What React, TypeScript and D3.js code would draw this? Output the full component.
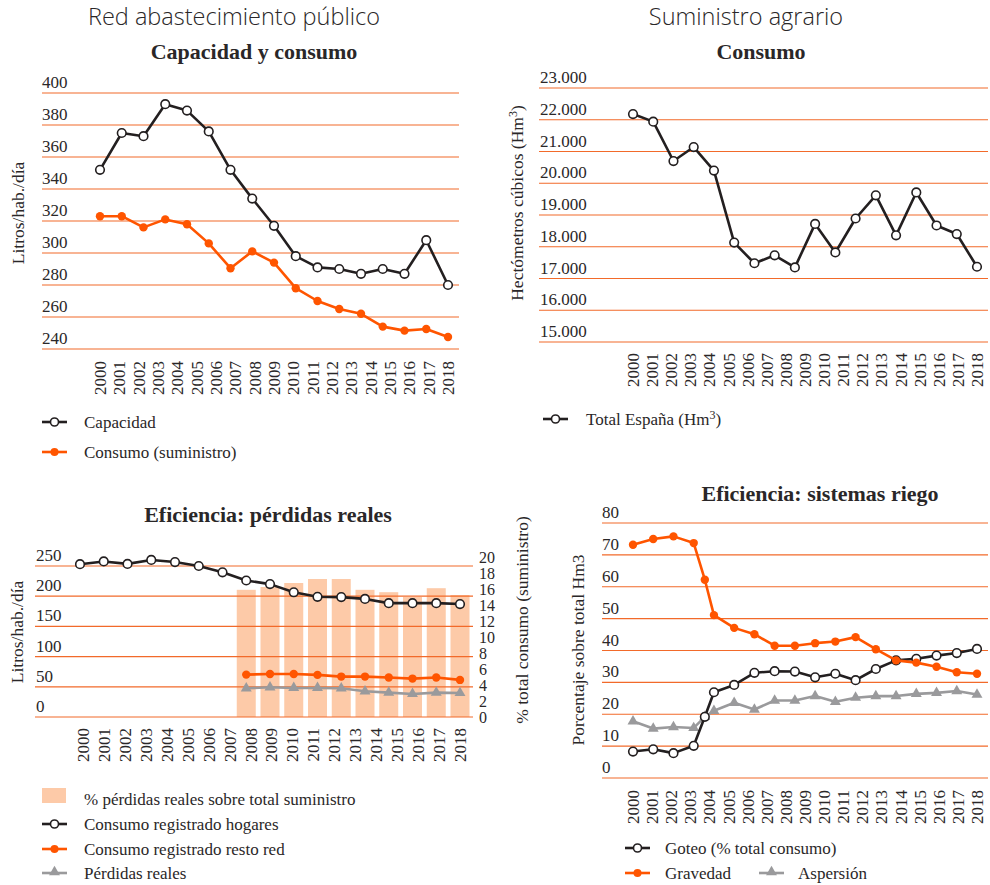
import React from "react";
import * as d3 from "d3";

// ---------- DATA ----------
const YEARS = ["2000","2001","2002","2003","2004","2005","2006","2007","2008","2009","2010","2011","2012","2013","2014","2015","2016","2017","2018"];

// Red abastecimiento público — Capacidad y consumo (Litros/hab./día)
const CAP_TICKS = [240, 260, 280, 300, 320, 340, 360, 380, 400];
const CAPACIDAD = [352, 375, 373, 393, 389, 376, 352, 334, 317, 298, 291, 290, 287, 290, 287, 308, 280];
const CONSUMO_SUM = [323, 323, 316, 321, 318, 306, 290.5, 301, 294, 278, 270, 265, 262, 254, 251.5, 252.5, 247.5];

// Suministro agrario — Consumo (Hm3)
const AGR_TICKS = [15000, 16000, 17000, 18000, 19000, 20000, 21000, 22000, 23000];
const TOTAL_ESPANA = [22180, 21940, 20700, 21140, 20400, 18130, 17480, 17730, 17350, 18720, 17820, 18890, 19620, 18360, 19710, 18670, 18400, 17370];

// Eficiencia: pérdidas reales
const PERD_LEFT_TICKS = [0, 50, 100, 150, 200, 250];
const PERD_RIGHT_TICKS = [0, 2, 4, 6, 8, 10, 12, 14, 16, 18, 20];
const HOGARES = [253, 257.5, 253.5, 260, 256.5, 250, 239.5, 226, 220, 206.5, 199, 198.5, 195.5, 188.5, 188.5, 188.5, 187];
const PERD_START = 7; // slot where the loss series begin
const RESTO_RED = [70.2, 71.3, 71.3, 69.7, 66.9, 66.9, 65.3, 63.6, 65.3, 61.4];
const PERDIDAS = [47.6, 49.2, 48.1, 48.1, 47.6, 42.6, 40.4, 38.2, 40.4, 39.8];
const PERDIDAS_PCT = [15.9, 16.25, 16.75, 17.25, 17.25, 15.9, 15.6, 15.0, 16.1, 15.25];

// Eficiencia: sistemas riego (% sobre total Hm3)
const RIEGO_TICKS = [0, 10, 20, 30, 40, 50, 60, 70, 80];
const RIEGO_POS = [0, 1, 2, 3, 3.55, 4, 5, 6, 7, 8, 9, 10, 11, 12, 13, 14, 15, 16, 17];
const GOTEO = [8.3, 9.0, 7.8, 10.1, 19.2, 26.9, 29.2, 33.0, 33.5, 33.4, 31.6, 32.7, 30.7, 34.2, 36.9, 37.4, 38.4, 39.2, 40.5];
const GRAVEDAD = [73.2, 75, 75.8, 73.7, 62.2, 51.1, 47.1, 45.1, 41.5, 41.5, 42.3, 42.8, 44.2, 40.4, 36.9, 36.2, 34.9, 33.2, 32.7];
const ASPERSION = [17.8, 15.5, 16.0, 15.7, 19.2, 21.1, 23.6, 21.5, 24.3, 24.3, 25.7, 23.9, 25.2, 25.7, 25.7, 26.4, 26.7, 27.3, 26.2];

// ---------- STYLE ----------
const SERIF = "'Liberation Serif', 'DejaVu Serif', serif";
const SANS = "'Open Sans', Lato, sans-serif";
const TXT = "#2a2728";
const GRID = "#f26a2a";
const ORANGE = "#ff5500";
const BLACK = "#231f20";
const GREY = "#9a9a9c";
const BAR = "#fdcaa8";

const esFmt = d3.formatLocale({ decimal: ",", thousands: ".", grouping: [3], currency: ["", "€"] }).format(",");

type Pt = [number, number];

function Line({ pts, color, width = 2.6 }: { pts: Pt[]; color: string; width?: number }) {
  const gen = d3.line<Pt>().x((d) => d[0]).y((d) => d[1]);
  return <path d={gen(pts) || ""} fill="none" stroke={color} strokeWidth={width} strokeLinejoin="round" />;
}

function OpenDots({ pts, r = 4.3 }: { pts: Pt[]; r?: number }) {
  return <g>{pts.map((p, i) => <circle key={i} cx={p[0]} cy={p[1]} r={r} fill="#fff" stroke={BLACK} strokeWidth={1.6} />)}</g>;
}
function Dots({ pts, color, r = 4.2 }: { pts: Pt[]; color: string; r?: number }) {
  return <g>{pts.map((p, i) => <circle key={i} cx={p[0]} cy={p[1]} r={r} fill={color} />)}</g>;
}
const triSym = d3.symbol().type(d3.symbolTriangle).size(52);
function Tris({ pts, color }: { pts: Pt[]; color: string }) {
  return <g>{pts.map((p, i) => <path key={i} d={triSym() || ""} transform={`translate(${p[0]},${p[1]})`} fill={color} />)}</g>;
}

function Grid({ ticks, y, x0, x1, labelX, fmt = (v: number) => String(v) }: { ticks: number[]; y: d3.ScaleLinear<number, number>; x0: number; x1: number; labelX: number; fmt?: (v: number) => string }) {
  return (
    <g>
      {ticks.map((t) => (
        <g key={t}>
          <line x1={x0} x2={x1} y1={y(t)} y2={y(t)} stroke={GRID} strokeWidth={1.2} />
          <text x={labelX} y={y(t) - 5} fontFamily={SERIF} fontSize={17} fill={TXT}>{fmt(t)}</text>
        </g>
      ))}
    </g>
  );
}

function YearAxis({ x, top }: { x: d3.ScalePoint<string>; top: number }) {
  return (
    <g>
      {YEARS.map((yr) => (
        <text key={yr} transform={`translate(${x(yr)},${top}) rotate(-90)`} textAnchor="end" dy="0.35em" fontFamily={SERIF} fontSize={17} fill={TXT}>{yr}</text>
      ))}
    </g>
  );
}

function RotLabel({ cx, cy, children }: { cx: number; cy: number; children: React.ReactNode }) {
  return (
    <text transform={`translate(${cx},${cy}) rotate(-90)`} textAnchor="middle" dy="0.35em" fontFamily={SERIF} fontSize={17.5} fill={TXT}>{children}</text>
  );
}

function LegendLine({ x, y, kind, color }: { x: number; y: number; kind: "open" | "dot" | "tri"; color: string }) {
  return (
    <g>
      <line x1={x} x2={x + 25} y1={y} y2={y} stroke={color} strokeWidth={2.6} />
      {kind === "open" && <circle cx={x + 12.5} cy={y} r={4} fill="#fff" stroke={color} strokeWidth={1.6} />}
      {kind === "dot" && <circle cx={x + 12.5} cy={y} r={4} fill={color} />}
      {kind === "tri" && <path d={triSym() || ""} transform={`translate(${x + 12.5},${y - 1})`} fill={color} />}
    </g>
  );
}
function LegendText({ x, y, children }: { x: number; y: number; children: React.ReactNode }) {
  return <text x={x} y={y} dy="0.35em" fontFamily={SERIF} fontSize={17} fill={TXT}>{children}</text>;
}

function Header({ x, children }: { x: number; children: React.ReactNode }) {
  return <text x={x} y={25} textAnchor="middle" fontFamily={SANS} fontWeight={300} fontSize={23.5} fill={TXT}>{children}</text>;
}
function Title({ x, y, children }: { x: number; y: number; children: React.ReactNode }) {
  return <text x={x} y={y} textAnchor="middle" fontFamily={SERIF} fontWeight={700} fontSize={22} fill={TXT}>{children}</text>;
}

function TopLeft() {
  const y = d3.scaleLinear().domain([240, 400]).range([349, 93]);
  const xl = d3.scalePoint<string>().domain(YEARS).range([100, 448]);
  const xs = d3.scalePoint<number>().domain(d3.range(CAPACIDAD.length)).range([100, 448]);
  const cap: Pt[] = CAPACIDAD.map((v, i) => [xs(i)!, y(v)]);
  const con: Pt[] = CONSUMO_SUM.map((v, i) => [xs(i)!, y(v)]);
  return (
    <g>
      <Header x={234}>Red abastecimiento público</Header>
      <Title x={254} y={59}>Capacidad y consumo</Title>
      <Grid ticks={CAP_TICKS} y={y} x0={42} x1={459} labelX={42} />
      <RotLabel cx={18} cy={213}>Litros/hab./día</RotLabel>
      <Line pts={cap} color={BLACK} />
      <OpenDots pts={cap} />
      <Line pts={con} color={ORANGE} />
      <Dots pts={con} color={ORANGE} />
      <YearAxis x={xl} top={361} />
      <LegendLine x={42} y={422} kind="open" color={BLACK} />
      <LegendText x={84} y={422}>Capacidad</LegendText>
      <LegendLine x={42} y={452} kind="dot" color={ORANGE} />
      <LegendText x={84} y={452}>Consumo (suministro)</LegendText>
    </g>
  );
}

function TopRight() {
  const y = d3.scaleLinear().domain([15000, 23000]).range([342, 88]);
  const xl = d3.scalePoint<string>().domain(YEARS).range([633, 977]);
  const xs = d3.scalePoint<number>().domain(d3.range(TOTAL_ESPANA.length)).range([633, 977]);
  const pts: Pt[] = TOTAL_ESPANA.map((v, i) => [xs(i)!, y(v)]);
  return (
    <g>
      <Header x={746}>Suministro agrario</Header>
      <Title x={761} y={59}>Consumo</Title>
      <Grid ticks={AGR_TICKS} y={y} x0={539} x1={988} labelX={540} fmt={(v) => esFmt(v)} />
      <RotLabel cx={517} cy={203}>Hectómetros cúbicos (Hm<tspan fontSize={12} dy={-6}>3</tspan><tspan dy={6}>)</tspan></RotLabel>
      <Line pts={pts} color={BLACK} />
      <OpenDots pts={pts} />
      <YearAxis x={xl} top={353} />
      <LegendLine x={543} y={419} kind="open" color={BLACK} />
      <LegendText x={586} y={419}>Total España (Hm<tspan fontSize={12} dy={-6}>3</tspan><tspan dy={6}>)</tspan></LegendText>
    </g>
  );
}

function BottomLeft() {
  const yL = d3.scaleLinear().domain([0, 250]).range([717, 566]);
  const yR = d3.scaleLinear().domain([0, 20]).range([717, 557]);
  const xl = d3.scalePoint<string>().domain(YEARS).range([83, 460]);
  const xs = d3.scalePoint<number>().domain(d3.range(HOGARES.length)).range([80, 460]);
  const bw = 19;
  const hog: Pt[] = HOGARES.map((v, i) => [xs(i)!, yL(v)]);
  const rr: Pt[] = RESTO_RED.map((v, i) => [xs(i + PERD_START)!, yL(v)]);
  const pr: Pt[] = PERDIDAS.map((v, i) => [xs(i + PERD_START)!, yL(v)]);
  return (
    <g>
      <Title x={268} y={522}>Eficiencia: pérdidas reales</Title>
      {PERDIDAS_PCT.map((v, i) => (
        <rect key={i} x={xs(i + PERD_START)! - bw / 2} y={yR(v)} width={bw} height={yR(0) - yR(v)} fill={BAR} />
      ))}
      <Grid ticks={PERD_LEFT_TICKS} y={yL} x0={35} x1={473} labelX={36} />
      {PERD_RIGHT_TICKS.map((t) => (
        <text key={t} x={479} y={yR(t)} dy="0.35em" fontFamily={SERIF} fontSize={16} fill={TXT}>{t}</text>
      ))}
      <RotLabel cx={17} cy={632}>Litros/hab./día</RotLabel>
      <RotLabel cx={522} cy={620}>% total consumo (suministro)</RotLabel>
      <Line pts={hog} color={BLACK} />
      <OpenDots pts={hog} />
      <Line pts={rr} color={ORANGE} />
      <Dots pts={rr} color={ORANGE} />
      <Line pts={pr} color={GREY} />
      <Tris pts={pr} color={GREY} />
      <YearAxis x={xl} top={728} />
      <rect x={42} y={788} width={24} height={15} fill={BAR} />
      <LegendText x={84} y={799}>% pérdidas reales sobre total suministro</LegendText>
      <LegendLine x={42} y={824} kind="open" color={BLACK} />
      <LegendText x={84} y={824}>Consumo registrado hogares</LegendText>
      <LegendLine x={42} y={849} kind="dot" color={ORANGE} />
      <LegendText x={84} y={849}>Consumo registrado resto red</LegendText>
      <LegendLine x={42} y={873} kind="tri" color={GREY} />
      <LegendText x={84} y={873}>Pérdidas reales</LegendText>
    </g>
  );
}

function BottomRight() {
  const y = d3.scaleLinear().domain([0, 80]).range([778, 523]);
  const xl = d3.scalePoint<string>().domain(YEARS).range([633, 977]);
  const xs = d3.scaleLinear().domain([0, 17]).range([633, 977]);
  const gt: Pt[] = GOTEO.map((v, i) => [xs(RIEGO_POS[i]), y(v)]);
  const gr: Pt[] = GRAVEDAD.map((v, i) => [xs(RIEGO_POS[i]), y(v)]);
  const as: Pt[] = ASPERSION.map((v, i) => [xs(RIEGO_POS[i]), y(v)]);
  return (
    <g>
      <Title x={820} y={501}>Eficiencia: sistemas riego</Title>
      <Grid ticks={RIEGO_TICKS} y={y} x0={602} x1={988} labelX={602} />
      <RotLabel cx={578} cy={650}>Porcentaje sobre total Hm3</RotLabel>
      <Line pts={as} color={GREY} />
      <Tris pts={as} color={GREY} />
      <Line pts={gt} color={BLACK} />
      <OpenDots pts={gt} />
      <Line pts={gr} color={ORANGE} />
      <Dots pts={gr} color={ORANGE} />
      <YearAxis x={xl} top={790} />
      <LegendLine x={625} y={848} kind="open" color={BLACK} />
      <LegendText x={665} y={848}>Goteo (% total consumo)</LegendText>
      <LegendLine x={625} y={873} kind="dot" color={ORANGE} />
      <LegendText x={665} y={873}>Gravedad</LegendText>
      <LegendLine x={759} y={873} kind="tri" color={GREY} />
      <LegendText x={798} y={873}>Aspersión</LegendText>
    </g>
  );
}

export default function App() {
  return (
    <svg width={990} height={885} viewBox="0 0 990 885" style={{ position: "absolute", left: 0, top: 0, background: "#fff" }}>
      <rect width={990} height={885} fill="#fff" />
      <TopLeft />
      <TopRight />
      <BottomLeft />
      <BottomRight />
    </svg>
  );
}
